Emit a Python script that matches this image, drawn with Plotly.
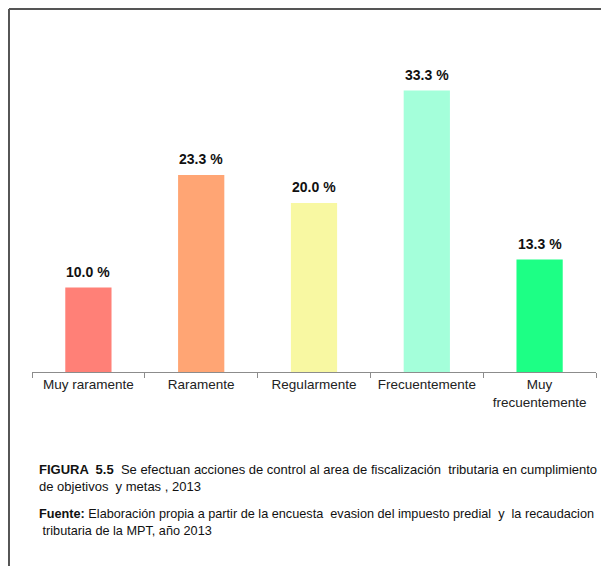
import plotly.graph_objects as go

categories = ["Muy raramente", "Raramente", "Regularmente", "Frecuentemente", "Muy<br>frecuentemente"]
values = [10.0, 23.3, 20.0, 33.3, 13.3]
value_labels = ["10.0 %", "23.3 %", "20.0 %", "33.3 %", "13.3 %"]
colors = ["#FF8077", "#FFA574", "#F8F8A2", "#A4FFDA", "#1DFF85"]

caption1 = ("<b>FIGURA  5.5</b>  Se efectuan acciones de control al area de fiscalización  tributaria en cumplimiento"
            "<br>de objetivos  y metas , 2013")
caption2 = ("<b>Fuente:</b> Elaboración propia a partir de la encuesta  evasion del impuesto predial  y  la recaudacion"
            "<br> tributaria de la MPT, año 2013")

fig = go.Figure()
fig.add_trace(go.Bar(x=categories, y=values, marker=dict(color=colors, line=dict(width=0)),
                     hoverinfo="skip"))

for c, v, t in zip(categories, values, value_labels):
    fig.add_annotation(x=c, y=v, text="<b>" + t + "</b>", showarrow=False, yanchor="bottom",
                       yshift=6, font=dict(family="Liberation Sans, Arial", size=14, color="#111111"))

fig.add_annotation(xref="paper", yref="paper", x=0.009, y=-0.26, xanchor="left", yanchor="top",
                   align="left", showarrow=False, text=caption1,
                   font=dict(family="Liberation Sans, Arial", size=13, color="#111111"))
fig.add_annotation(xref="paper", yref="paper", x=0.009, y=-0.393, xanchor="left", yanchor="top",
                   align="left", showarrow=False, text=caption2,
                   font=dict(family="Liberation Sans, Arial", size=12.7, color="#111111"))

# frame: left and top edges
fig.add_shape(type="line", xref="paper", yref="paper", x0=-0.0408, x1=-0.0408, y0=-0.7, y1=1.074,
              line=dict(color="#555555", width=2), layer="below")
fig.add_shape(type="line", xref="paper", yref="paper", x0=-0.0408, x1=1.1, y0=1.074, y1=1.074,
              line=dict(color="#555555", width=2), layer="below")

fig.update_layout(
    width=601, height=558,
    margin=dict(l=24, r=13, t=26, b=194),
    paper_bgcolor="white", plot_bgcolor="white",
    bargap=0.59, showlegend=False,
    font=dict(family="Liberation Sans, Arial", size=13, color="#222222"),
    xaxis=dict(showline=True, linecolor="#8c8c8c", linewidth=1, ticks="outside", tickson="boundaries",
               ticklen=5, tickcolor="#8c8c8c", showgrid=False, fixedrange=True,
               tickfont=dict(family="Liberation Sans, Arial", size=13.5, color="#222222")),
    yaxis=dict(range=[0, 40], visible=False, showgrid=False, fixedrange=True),
)

fig.write_html("out.html")
